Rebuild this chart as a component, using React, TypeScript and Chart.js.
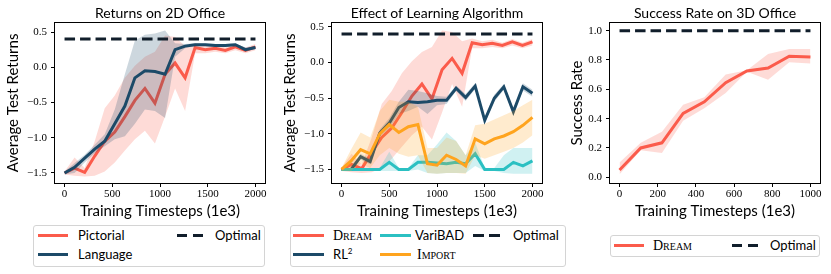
import React, { useEffect, useRef } from 'react';
import { Chart, registerables } from 'chart.js';

Chart.register(...registerables);

// ---------- colours & fonts ----------
const RED = '#fb5b4b';
const NAVY = '#1c4a68';
const CYAN = '#2bc0c2';
const ORANGE = '#ffa41e';
const OPT = '#111e2b';
const SANS = 'Lato, "DejaVu Sans", sans-serif';
const SERIF = '"Liberation Serif", serif';

// ---------- x grids ----------
const X20 = [0, 105, 211, 316, 421, 526, 632, 737, 842, 947, 1053, 1158, 1263, 1368, 1474, 1579, 1684, 1789, 1895, 2000];
const X21 = [0, 100, 200, 300, 400, 500, 600, 700, 800, 900, 1000, 1100, 1200, 1300, 1400, 1500, 1600, 1700, 1800, 1900, 2000];
const X10 = [0, 111, 222, 333, 444, 556, 667, 778, 889, 1000];

// ---------- panel 1 : Returns on 2D Office ----------
const PICTORIAL = [-1.5, -1.43, -1.49, -1.26, -1.05, -0.92, -0.7, -0.47, -0.3, -0.51, -0.1, 0.06, -0.15, 0.28, 0.25, 0.27, 0.24, 0.29, 0.24, 0.29];
const PICTORIAL_LO = [-1.52, -1.54, -1.55, -1.54, -1.48, -1.35, -1.18, -1.02, -0.9, -1.08, -0.7, -0.3, -0.62, 0.2, 0.2, 0.22, 0.2, 0.24, 0.2, 0.24];
const PICTORIAL_HI = [-1.48, -1.28, -1.43, -1.05, -0.58, -0.4, -0.15, 0.02, 0.15, 0.22, 0.45, 0.43, 0.3, 0.34, 0.3, 0.32, 0.28, 0.33, 0.28, 0.33];
const LANGUAGE = [-1.5, -1.42, -1.29, -1.16, -1.05, -0.8, -0.55, -0.15, -0.05, -0.06, -0.1, 0.25, 0.3, 0.32, 0.32, 0.31, 0.31, 0.32, 0.25, 0.28];
const LANGUAGE_LO = [-1.52, -1.5, -1.35, -1.22, -1.12, -1.02, -0.98, -0.8, -0.6, -0.62, -0.72, 0.15, 0.27, 0.3, 0.3, 0.29, 0.29, 0.3, 0.22, 0.26];
const LANGUAGE_HI = [-1.48, -1.36, -1.24, -1.1, -0.95, -0.6, -0.1, 0.38, 0.46, 0.48, 0.52, 0.34, 0.33, 0.34, 0.34, 0.33, 0.33, 0.34, 0.28, 0.3];
const OPTIMAL_2D = 0.4;

// ---------- panel 2 : Effect of Learning Algorithm ----------
const DREAM = PICTORIAL;
const DREAM_LO = PICTORIAL_LO;
const DREAM_HI = PICTORIAL_HI;
const RL2 = [-1.5, -1.5, -1.32, -1.39, -0.99, -0.85, -0.63, -0.55, -0.56, -0.55, -0.53, -0.53, -0.36, -0.49, -0.33, -0.81, -0.5, -0.34, -0.69, -0.34, -0.43];
const RL2_LO = [-1.52, -1.52, -1.36, -1.43, -1.04, -0.92, -0.72, -0.68, -0.62, -0.72, -0.6, -0.58, -0.4, -0.54, -0.37, -0.85, -0.55, -0.38, -0.73, -0.39, -0.48];
const RL2_HI = [-1.48, -1.48, -1.28, -1.35, -0.94, -0.78, -0.55, -0.38, -0.4, -0.43, -0.47, -0.48, -0.32, -0.44, -0.29, -0.77, -0.45, -0.3, -0.65, -0.29, -0.38];
const VARIBAD = [-1.5, -1.5, -1.5, -1.5, -1.5, -1.4, -1.5, -1.5, -1.4, -1.4, -1.41, -1.42, -1.4, -1.42, -1.28, -1.5, -1.5, -1.5, -1.4, -1.45, -1.38];
const VARIBAD_LO = [-1.52, -1.52, -1.52, -1.52, -1.52, -1.52, -1.52, -1.52, -1.5, -1.55, -1.56, -1.55, -1.55, -1.55, -1.45, -1.52, -1.52, -1.55, -1.56, -1.56, -1.56];
const VARIBAD_HI = [-1.48, -1.48, -1.48, -1.48, -1.48, -1.25, -1.48, -1.48, -1.3, -1.3, -1.15, -0.98, -1.1, -1.3, -1.12, -1.48, -1.48, -1.3, -1.2, -1.2, -1.2];
const IMPORT = [-1.5, -1.38, -1.22, -1.28, -1.0, -0.87, -0.98, -0.9, -0.87, -1.42, -1.44, -1.3, -1.36, -1.45, -1.07, -1.14, -1.07, -1.03, -0.97, -0.88, -0.77];
const IMPORT_LO = [-1.52, -1.52, -1.42, -1.48, -1.3, -1.2, -1.28, -1.32, -1.3, -1.55, -1.56, -1.55, -1.55, -1.56, -1.3, -1.35, -1.3, -1.25, -1.2, -1.12, -1.02];
const IMPORT_HI = [-1.48, -1.22, -0.98, -1.05, -0.68, -0.52, -0.55, -0.55, -0.62, -1.2, -1.2, -1.05, -1.1, -1.3, -0.88, -0.86, -0.8, -0.74, -0.68, -0.6, -0.52];

// ---------- panel 3 : Success Rate on 3D Office ----------
const DREAM_3D = [0.05, 0.2, 0.235, 0.435, 0.515, 0.645, 0.725, 0.745, 0.825, 0.82];
const DREAM_3D_LO = [0.02, 0.185, 0.165, 0.385, 0.47, 0.575, 0.72, 0.665, 0.785, 0.775];
const DREAM_3D_HI = [0.1, 0.235, 0.31, 0.495, 0.545, 0.7, 0.73, 0.84, 0.875, 0.875];
const OPTIMAL_3D = 1.0;

// ---------- ticks ----------
const X_TICKS_2D = [0, 500, 1000, 1500, 2000];
const Y_TICKS_2D = [-1.5, -1.0, -0.5, 0.0, 0.5];
const X_TICKS_3D = [0, 200, 400, 600, 800, 1000];
const Y_TICKS_3D = [0.0, 0.2, 0.4, 0.6, 0.8, 1.0];

type Series = { color: string; xs: number[]; y: number[]; lo: number[]; hi: number[] };

const pts = (xs: number[], ys: number[]) => xs.map((x, i) => ({ x, y: ys[i] }));

function rgba(hex: string, a: number) {
  const n = parseInt(hex.slice(1), 16);
  return `rgba(${(n >> 16) & 255},${(n >> 8) & 255},${n & 255},${a})`;
}

const fmtSigned = (v: number) => {
  const s = Number(v).toFixed(1);
  return s.startsWith('-') ? '\u2212' + s.slice(1) : s;
};

const framePlugin = {
  id: 'frame',
  afterDraw(chart: any) {
    const { ctx, chartArea: a } = chart;
    ctx.save();
    ctx.strokeStyle = '#000';
    ctx.lineWidth = 1;
    const l = Math.round(a.left) - 0.5;
    const t = Math.round(a.top) - 0.5;
    const r = Math.round(a.right) + 0.5;
    const b = Math.round(a.bottom) + 0.5;
    ctx.strokeRect(l, t, r - l, b - t);
    ctx.restore();
  },
};

type PanelSpec = {
  title: string;
  yTitle: string;
  series: Series[];
  optimal: number;
  optXs: number[];
  xMin: number; xMax: number; yMin: number; yMax: number;
  xTicks: number[]; yTicks: number[];
  yFmt: (v: number) => string;
  yAxisWidth: number;
  padRight: number;
  yTitlePad: number;
};

const CANVAS_H = 222;
const PLOT_BOTTOM = 183;

function buildConfig(p: PanelSpec) {
  const layers: any[] = [];
  p.series.forEach((s) => {
    layers.push({
      data: pts(s.xs, s.lo), borderWidth: 0, pointRadius: 0, fill: '+1',
      backgroundColor: rgba(s.color, 0.22), borderColor: 'rgba(0,0,0,0)',
    });
    layers.push({
      data: pts(s.xs, s.hi), borderWidth: 0, pointRadius: 0, fill: false,
      borderColor: 'rgba(0,0,0,0)',
    });
    layers.push({
      data: pts(s.xs, s.y), borderWidth: 3, pointRadius: 0, fill: false,
      borderColor: s.color, tension: 0,
    });
  });
  layers.push({
    data: [{ x: p.optXs[0], y: p.optimal }, { x: p.optXs[p.optXs.length - 1], y: p.optimal }],
    borderWidth: 3, borderDash: [10.5, 5], pointRadius: 0, fill: false, borderColor: OPT,
  });
  const datasets = layers.map((d, i) => ({ ...d, order: layers.length - i }));

  const tickGrid = {
    display: true, drawOnChartArea: false, drawTicks: true, tickLength: 4,
    tickColor: '#000', tickWidth: 1,
  };
  return {
    type: 'line',
    data: { datasets },
    options: {
      responsive: false,
      animation: false,
      devicePixelRatio: 1,
      layout: { padding: { left: 0, right: p.padRight, top: 0, bottom: 0 } },
      plugins: {
        legend: { display: false },
        tooltip: { enabled: false },
        title: {
          display: true, text: p.title, fullSize: false, color: '#000',
          font: { family: SANS, size: 14, weight: 'normal', lineHeight: 1.2 },
          padding: { top: 4.9, bottom: 1.3 },
        },
      },
      scales: {
        x: {
          type: 'linear', min: p.xMin, max: p.xMax,
          afterBuildTicks: (s: any) => { s.ticks = p.xTicks.map((v) => ({ value: v })); },
          afterFit: (s: any) => { s.height = CANVAS_H - PLOT_BOTTOM; },
          ticks: { color: '#000', font: { family: SERIF, size: 11 }, padding: 1, maxRotation: 0, autoSkip: false, callback: (v: any) => String(v) },
          grid: tickGrid,
          border: { display: false },
          title: {
            display: true, text: 'Training Timesteps (1e3)', color: '#000',
            font: { family: SANS, size: 15, lineHeight: 1.2 }, padding: { top: 0, bottom: 2 },
          },
        },
        y: {
          type: 'linear', min: p.yMin, max: p.yMax,
          afterBuildTicks: (s: any) => { s.ticks = p.yTicks.map((v) => ({ value: v })); },
          afterFit: (s: any) => { s.width = p.yAxisWidth; },
          ticks: { color: '#000', font: { family: SERIF, size: 11 }, padding: 4, autoSkip: false, callback: (v: any) => p.yFmt(v) },
          grid: tickGrid,
          border: { display: false },
          title: {
            display: true, text: p.yTitle, color: '#000',
            font: { family: SANS, size: 15, lineHeight: 1.2 }, padding: { top: p.yTitlePad, bottom: 0 },
          },
        },
      },
    },
    plugins: [framePlugin],
  };
}

function Panel({ spec, left, width }: { spec: PanelSpec; left: number; width: number }) {
  const ref = useRef<HTMLCanvasElement>(null);
  useEffect(() => {
    if (!ref.current) return;
    const chart = new Chart(ref.current, buildConfig(spec) as any);
    return () => chart.destroy();
  }, []);
  return (
    <canvas
      ref={ref}
      width={width}
      height={CANVAS_H}
      style={{ position: 'absolute', left, top: 0, width, height: CANVAS_H }}
    />
  );
}

type LegendItem = { label: React.ReactNode; color: string; dashed?: boolean; sx: number; sw: number; tx: number; y: number };

function Legend({ box, items }: { box: { left: number; top: number; width: number; height: number }; items: LegendItem[] }) {
  return (
    <>
      <div
        style={{
          position: 'absolute', left: box.left, top: box.top, width: box.width, height: box.height,
          border: '1px solid #d4d4d4', borderRadius: 3, background: 'rgba(255,255,255,0.8)', boxSizing: 'border-box',
        }}
      />
      {items.map((it, i) => (
        <React.Fragment key={i}>
          {it.dashed ? (
            <>
              <div style={{ position: 'absolute', left: it.sx, top: it.y - 1.5, width: it.sw * 0.4, height: 3, background: it.color }} />
              <div style={{ position: 'absolute', left: it.sx + it.sw * 0.6, top: it.y - 1.5, width: it.sw * 0.4, height: 3, background: it.color }} />
            </>
          ) : (
            <div style={{ position: 'absolute', left: it.sx, top: it.y - 1.5, width: it.sw, height: 3, background: it.color }} />
          )}
          <div
            style={{
              position: 'absolute', left: it.tx, top: it.y - 9, height: 18, lineHeight: '18px',
              fontFamily: SANS, fontSize: 13, color: '#000', whiteSpace: 'nowrap',
            }}
          >
            {it.label}
          </div>
        </React.Fragment>
      ))}
    </>
  );
}

const SC = ({ children }: { children: React.ReactNode }) => (
  <span style={{ fontFamily: SERIF, fontVariant: 'small-caps', fontSize: 14 }}>{children}</span>
);

const RL2Label = (
  <span>
    RL<span style={{ fontSize: 8, position: 'relative', top: -5 }}>2</span>
  </span>
);

const PANEL1: PanelSpec = {
  title: 'Returns on 2D Office',
  yTitle: 'Average Test Returns',
  series: [
    { color: RED, xs: X20, y: PICTORIAL, lo: PICTORIAL_LO, hi: PICTORIAL_HI },
    { color: NAVY, xs: X20, y: LANGUAGE, lo: LANGUAGE_LO, hi: LANGUAGE_HI },
  ],
  optimal: OPTIMAL_2D, optXs: X21,
  xMin: -100, xMax: 2100, yMin: -1.642, yMax: 0.628,
  xTicks: X_TICKS_2D, yTicks: Y_TICKS_2D, yFmt: fmtSigned,
  yAxisWidth: 55, padRight: 15, yTitlePad: 3.7,
};

const PANEL2: PanelSpec = {
  title: 'Effect of Learning Algorithm',
  yTitle: 'Average Test Returns',
  series: [
    { color: RED, xs: X20, y: DREAM, lo: DREAM_LO, hi: DREAM_HI },
    { color: NAVY, xs: X21, y: RL2, lo: RL2_LO, hi: RL2_HI },
    { color: CYAN, xs: X21, y: VARIBAD, lo: VARIBAD_LO, hi: VARIBAD_HI },
    { color: ORANGE, xs: X21, y: IMPORT, lo: IMPORT_LO, hi: IMPORT_HI },
  ],
  optimal: OPTIMAL_2D, optXs: X21,
  xMin: -100, xMax: 2100, yMin: -1.69, yMax: 0.556,
  xTicks: X_TICKS_2D, yTicks: Y_TICKS_2D, yFmt: fmtSigned,
  yAxisWidth: 52, padRight: 15, yTitlePad: 1,
};

const PANEL3: PanelSpec = {
  title: 'Success Rate on 3D Office',
  yTitle: 'Success Rate',
  series: [{ color: RED, xs: X10, y: DREAM_3D, lo: DREAM_3D_LO, hi: DREAM_3D_HI }],
  optimal: OPTIMAL_3D, optXs: X10,
  xMin: -50, xMax: 1050, yMin: -0.039, yMax: 1.052,
  xTicks: X_TICKS_3D, yTicks: Y_TICKS_3D, yFmt: (v) => Number(v).toFixed(1),
  yAxisWidth: 53, padRight: 11, yTitlePad: 11,
};

export default function App() {
  return (
    <div style={{ position: 'absolute', left: 0, top: 0, width: 831, height: 274, background: '#fff', overflow: 'hidden' }}>
      <Panel spec={PANEL1} left={0} width={280} />
      <Panel spec={PANEL2} left={280} width={277} />
      <Panel spec={PANEL3} left={557} width={274} />

      <Legend
        box={{ left: 33, top: 225, width: 232, height: 42 }}
        items={[
          { label: 'Pictorial', color: RED, sx: 38, sw: 30, tx: 78, y: 235 },
          { label: 'Language', color: NAVY, sx: 38, sw: 30, tx: 78, y: 254 },
          { label: 'Optimal', color: OPT, dashed: true, sx: 177, sw: 26, tx: 215, y: 235 },
        ]}
      />
      <Legend
        box={{ left: 290, top: 225, width: 276, height: 42 }}
        items={[
          { label: <SC>Dream</SC>, color: RED, sx: 293, sw: 31, tx: 333, y: 235 },
          { label: RL2Label, color: NAVY, sx: 293, sw: 31, tx: 333, y: 254 },
          { label: 'VariBAD', color: CYAN, sx: 380, sw: 31, tx: 415, y: 235 },
          { label: <SC>Import</SC>, color: ORANGE, sx: 380, sw: 31, tx: 417, y: 254 },
          { label: 'Optimal', color: OPT, dashed: true, sx: 473, sw: 27, tx: 513, y: 235 },
        ]}
      />
      <Legend
        box={{ left: 610, top: 235, width: 210, height: 22 }}
        items={[
          { label: <SC>Dream</SC>, color: RED, sx: 614, sw: 30, tx: 653, y: 245 },
          { label: 'Optimal', color: OPT, dashed: true, sx: 732, sw: 26, tx: 770, y: 245 },
        ]}
      />
    </div>
  );
}
